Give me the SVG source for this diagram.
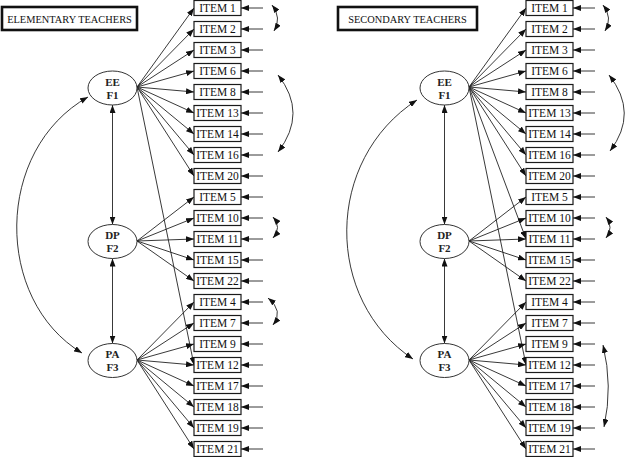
<svg xmlns="http://www.w3.org/2000/svg" width="625" height="457" viewBox="0 0 625 457">
<style>
.bg{fill:#fff}
.box{fill:#fff;stroke:#1a1a1a;stroke-width:1.2}
.title{fill:#fff;stroke:#111;stroke-width:2.6}
.lat{fill:#fff;stroke:#333;stroke-width:1}
.t{font-family:"Liberation Serif","DejaVu Serif",serif;font-size:11.5px;text-anchor:middle;fill:#111}
.tl{font-family:"Liberation Serif","DejaVu Serif",serif;font-size:11px;font-weight:bold;text-anchor:middle;fill:#222}
.tt{font-family:"Liberation Serif","DejaVu Serif",serif;font-size:10.4px;text-anchor:middle;fill:#111}
.c{fill:none;stroke:#222;stroke-width:0.9;marker-end:url(#ah)}
.d{fill:none;stroke:#222;stroke-width:0.9;marker-start:url(#ah);marker-end:url(#ah)}
</style>
<defs>
<marker id="ah" viewBox="0 0 8 6" refX="8" refY="3" markerWidth="8" markerHeight="6" markerUnits="userSpaceOnUse" orient="auto-start-reverse">
<path d="M0,0 L8,3 L0,6 z" fill="#111"/>
</marker>
</defs>
<rect class="bg" x="0" y="0" width="625" height="457"/>

<g id="connectors">
<path class="c" d="M137 87 L194 8"/>
<path class="c" d="M137 87 L194 29"/>
<path class="c" d="M137 87 L194 50"/>
<path class="c" d="M137 87 L194 71"/>
<path class="c" d="M137 87 L194 92"/>
<path class="c" d="M137 87 L194 113"/>
<path class="c" d="M137 87 L194 134"/>
<path class="c" d="M137 87 L194 155"/>
<path class="c" d="M137 87 L194 176"/>
<path class="c" d="M137 87 L194 365"/>
<path class="c" d="M137 241 L194 197"/>
<path class="c" d="M137 241 L194 218"/>
<path class="c" d="M137 241 L194 239"/>
<path class="c" d="M137 241 L194 260"/>
<path class="c" d="M137 241 L194 281"/>
<path class="c" d="M137 360 L194 302"/>
<path class="c" d="M137 360 L194 323"/>
<path class="c" d="M137 360 L194 344"/>
<path class="c" d="M137 360 L194 365"/>
<path class="c" d="M137 360 L194 386"/>
<path class="c" d="M137 360 L194 407"/>
<path class="c" d="M137 360 L194 428"/>
<path class="c" d="M137 360 L194 449"/>
<path class="d" d="M112.5 105 L112.5 224.5"/>
<path class="d" d="M112.5 258.5 L112.5 343.5"/>
<path class="d" d="M88 97 C -6 150 -6 300 82 353"/>
<path class="c" d="M263 8 L241 8"/>
<path class="c" d="M263 29 L241 29"/>
<path class="c" d="M263 50 L241 50"/>
<path class="c" d="M263 71 L241 71"/>
<path class="c" d="M263 92 L241 92"/>
<path class="c" d="M263 113 L241 113"/>
<path class="c" d="M263 134 L241 134"/>
<path class="c" d="M263 155 L241 155"/>
<path class="c" d="M263 176 L241 176"/>
<path class="c" d="M263 197 L241 197"/>
<path class="c" d="M263 218 L241 218"/>
<path class="c" d="M263 239 L241 239"/>
<path class="c" d="M263 260 L241 260"/>
<path class="c" d="M263 281 L241 281"/>
<path class="c" d="M263 302 L241 302"/>
<path class="c" d="M263 323 L241 323"/>
<path class="c" d="M263 344 L241 344"/>
<path class="c" d="M263 365 L241 365"/>
<path class="c" d="M263 386 L241 386"/>
<path class="c" d="M263 407 L241 407"/>
<path class="c" d="M263 428 L241 428"/>
<path class="c" d="M263 449 L241 449"/>
<path class="d" d="M272 5 Q282 18 274 31"/>
<path class="d" d="M278 75 Q308 113 278 152"/>
<path class="d" d="M273 217 Q282 227.5 273 238"/>
<path class="d" d="M268 298 Q284 311 273 325"/>

<path class="c" d="M469 87 L526 8"/>
<path class="c" d="M469 87 L526 29"/>
<path class="c" d="M469 87 L526 50"/>
<path class="c" d="M469 87 L526 71"/>
<path class="c" d="M469 87 L526 92"/>
<path class="c" d="M469 87 L526 113"/>
<path class="c" d="M469 87 L526 134"/>
<path class="c" d="M469 87 L526 155"/>
<path class="c" d="M469 87 L526 176"/>
<path class="c" d="M469 87 L526 239"/>
<path class="c" d="M469 87 L526 365"/>
<path class="c" d="M469 241 L526 197"/>
<path class="c" d="M469 241 L526 218"/>
<path class="c" d="M469 241 L526 239"/>
<path class="c" d="M469 241 L526 260"/>
<path class="c" d="M469 241 L526 281"/>
<path class="c" d="M469 360 L526 302"/>
<path class="c" d="M469 360 L526 323"/>
<path class="c" d="M469 360 L526 344"/>
<path class="c" d="M469 360 L526 365"/>
<path class="c" d="M469 360 L526 386"/>
<path class="c" d="M469 360 L526 407"/>
<path class="c" d="M469 360 L526 428"/>
<path class="c" d="M469 360 L526 449"/>
<path class="d" d="M444.5 105 L444.5 224.5"/>
<path class="d" d="M444.5 258.5 L444.5 343.5"/>
<path class="d" d="M417 100 C 324 160 324 300 413 359"/>
<path class="c" d="M595 8 L573 8"/>
<path class="c" d="M595 29 L573 29"/>
<path class="c" d="M595 50 L573 50"/>
<path class="c" d="M595 71 L573 71"/>
<path class="c" d="M595 92 L573 92"/>
<path class="c" d="M595 113 L573 113"/>
<path class="c" d="M595 134 L573 134"/>
<path class="c" d="M595 155 L573 155"/>
<path class="c" d="M595 176 L573 176"/>
<path class="c" d="M595 197 L573 197"/>
<path class="c" d="M595 218 L573 218"/>
<path class="c" d="M595 239 L573 239"/>
<path class="c" d="M595 260 L573 260"/>
<path class="c" d="M595 281 L573 281"/>
<path class="c" d="M595 302 L573 302"/>
<path class="c" d="M595 323 L573 323"/>
<path class="c" d="M595 344 L573 344"/>
<path class="c" d="M595 365 L573 365"/>
<path class="c" d="M595 386 L573 386"/>
<path class="c" d="M595 407 L573 407"/>
<path class="c" d="M595 428 L573 428"/>
<path class="c" d="M595 449 L573 449"/>
<path class="d" d="M603 5 Q613 18 605 31"/>
<path class="d" d="M609 75 Q639 113 610 151"/>
<path class="d" d="M606 217 Q614 227.5 606 238"/>
<path class="d" d="M603 345 Q613 386 604 427"/>
</g>

<g id="L-title"><rect class="title" x="2" y="7" width="135" height="23"/><text class="tt" x="69.5" y="22.5">ELEMENTARY TEACHERS</text></g>
<g id="R-title"><rect class="title" x="338" y="7" width="139" height="23"/><text class="tt" x="407.5" y="22.5">SECONDARY TEACHERS</text></g>

<g id="L-EE"><ellipse class="lat" cx="112.5" cy="88" rx="24.5" ry="17"/><text class="tl" x="112.5" y="85.5">EE</text><text class="tl" x="112.5" y="98.5">F1</text></g>
<g id="L-DP"><ellipse class="lat" cx="112.5" cy="241.5" rx="24.5" ry="17"/><text class="tl" x="112.5" y="239">DP</text><text class="tl" x="112.5" y="252">F2</text></g>
<g id="L-PA"><ellipse class="lat" cx="112.5" cy="360.5" rx="24.5" ry="17"/><text class="tl" x="112.5" y="358">PA</text><text class="tl" x="112.5" y="371">F3</text></g>

<g id="R-EE"><ellipse class="lat" cx="444.5" cy="88" rx="24.5" ry="17"/><text class="tl" x="444.5" y="85.5">EE</text><text class="tl" x="444.5" y="98.5">F1</text></g>
<g id="R-DP"><ellipse class="lat" cx="444.5" cy="241.5" rx="24.5" ry="17"/><text class="tl" x="444.5" y="239">DP</text><text class="tl" x="444.5" y="252">F2</text></g>
<g id="R-PA"><ellipse class="lat" cx="444.5" cy="360.5" rx="24.5" ry="17"/><text class="tl" x="444.5" y="358">PA</text><text class="tl" x="444.5" y="371">F3</text></g>

<g id="L-item1"><rect class="box" x="194" y="0.5" width="47" height="15"/><text class="t" x="217.5" y="12">ITEM 1</text></g>
<g id="L-item2"><rect class="box" x="194" y="21.5" width="47" height="15"/><text class="t" x="217.5" y="33">ITEM 2</text></g>
<g id="L-item3"><rect class="box" x="194" y="42.5" width="47" height="15"/><text class="t" x="217.5" y="54">ITEM 3</text></g>
<g id="L-item6"><rect class="box" x="194" y="63.5" width="47" height="15"/><text class="t" x="217.5" y="75">ITEM 6</text></g>
<g id="L-item8"><rect class="box" x="194" y="84.5" width="47" height="15"/><text class="t" x="217.5" y="96">ITEM 8</text></g>
<g id="L-item13"><rect class="box" x="194" y="105.5" width="47" height="15"/><text class="t" x="217.5" y="117">ITEM 13</text></g>
<g id="L-item14"><rect class="box" x="194" y="126.5" width="47" height="15"/><text class="t" x="217.5" y="138">ITEM 14</text></g>
<g id="L-item16"><rect class="box" x="194" y="147.5" width="47" height="15"/><text class="t" x="217.5" y="159">ITEM 16</text></g>
<g id="L-item20"><rect class="box" x="194" y="168.5" width="47" height="15"/><text class="t" x="217.5" y="180">ITEM 20</text></g>
<g id="L-item5"><rect class="box" x="194" y="189.5" width="47" height="15"/><text class="t" x="217.5" y="201">ITEM 5</text></g>
<g id="L-item10"><rect class="box" x="194" y="210.5" width="47" height="15"/><text class="t" x="217.5" y="222">ITEM 10</text></g>
<g id="L-item11"><rect class="box" x="194" y="231.5" width="47" height="15"/><text class="t" x="217.5" y="243">ITEM 11</text></g>
<g id="L-item15"><rect class="box" x="194" y="252.5" width="47" height="15"/><text class="t" x="217.5" y="264">ITEM 15</text></g>
<g id="L-item22"><rect class="box" x="194" y="273.5" width="47" height="15"/><text class="t" x="217.5" y="285">ITEM 22</text></g>
<g id="L-item4"><rect class="box" x="194" y="294.5" width="47" height="15"/><text class="t" x="217.5" y="306">ITEM 4</text></g>
<g id="L-item7"><rect class="box" x="194" y="315.5" width="47" height="15"/><text class="t" x="217.5" y="327">ITEM 7</text></g>
<g id="L-item9"><rect class="box" x="194" y="336.5" width="47" height="15"/><text class="t" x="217.5" y="348">ITEM 9</text></g>
<g id="L-item12"><rect class="box" x="194" y="357.5" width="47" height="15"/><text class="t" x="217.5" y="369">ITEM 12</text></g>
<g id="L-item17"><rect class="box" x="194" y="378.5" width="47" height="15"/><text class="t" x="217.5" y="390">ITEM 17</text></g>
<g id="L-item18"><rect class="box" x="194" y="399.5" width="47" height="15"/><text class="t" x="217.5" y="411">ITEM 18</text></g>
<g id="L-item19"><rect class="box" x="194" y="420.5" width="47" height="15"/><text class="t" x="217.5" y="432">ITEM 19</text></g>
<g id="L-item21"><rect class="box" x="194" y="441.5" width="47" height="15"/><text class="t" x="217.5" y="453">ITEM 21</text></g>

<g id="R-item1"><rect class="box" x="526" y="0.5" width="47" height="15"/><text class="t" x="549.5" y="12">ITEM 1</text></g>
<g id="R-item2"><rect class="box" x="526" y="21.5" width="47" height="15"/><text class="t" x="549.5" y="33">ITEM 2</text></g>
<g id="R-item3"><rect class="box" x="526" y="42.5" width="47" height="15"/><text class="t" x="549.5" y="54">ITEM 3</text></g>
<g id="R-item6"><rect class="box" x="526" y="63.5" width="47" height="15"/><text class="t" x="549.5" y="75">ITEM 6</text></g>
<g id="R-item8"><rect class="box" x="526" y="84.5" width="47" height="15"/><text class="t" x="549.5" y="96">ITEM 8</text></g>
<g id="R-item13"><rect class="box" x="526" y="105.5" width="47" height="15"/><text class="t" x="549.5" y="117">ITEM 13</text></g>
<g id="R-item14"><rect class="box" x="526" y="126.5" width="47" height="15"/><text class="t" x="549.5" y="138">ITEM 14</text></g>
<g id="R-item16"><rect class="box" x="526" y="147.5" width="47" height="15"/><text class="t" x="549.5" y="159">ITEM 16</text></g>
<g id="R-item20"><rect class="box" x="526" y="168.5" width="47" height="15"/><text class="t" x="549.5" y="180">ITEM 20</text></g>
<g id="R-item5"><rect class="box" x="526" y="189.5" width="47" height="15"/><text class="t" x="549.5" y="201">ITEM 5</text></g>
<g id="R-item10"><rect class="box" x="526" y="210.5" width="47" height="15"/><text class="t" x="549.5" y="222">ITEM 10</text></g>
<g id="R-item11"><rect class="box" x="526" y="231.5" width="47" height="15"/><text class="t" x="549.5" y="243">ITEM 11</text></g>
<g id="R-item15"><rect class="box" x="526" y="252.5" width="47" height="15"/><text class="t" x="549.5" y="264">ITEM 15</text></g>
<g id="R-item22"><rect class="box" x="526" y="273.5" width="47" height="15"/><text class="t" x="549.5" y="285">ITEM 22</text></g>
<g id="R-item4"><rect class="box" x="526" y="294.5" width="47" height="15"/><text class="t" x="549.5" y="306">ITEM 4</text></g>
<g id="R-item7"><rect class="box" x="526" y="315.5" width="47" height="15"/><text class="t" x="549.5" y="327">ITEM 7</text></g>
<g id="R-item9"><rect class="box" x="526" y="336.5" width="47" height="15"/><text class="t" x="549.5" y="348">ITEM 9</text></g>
<g id="R-item12"><rect class="box" x="526" y="357.5" width="47" height="15"/><text class="t" x="549.5" y="369">ITEM 12</text></g>
<g id="R-item17"><rect class="box" x="526" y="378.5" width="47" height="15"/><text class="t" x="549.5" y="390">ITEM 17</text></g>
<g id="R-item18"><rect class="box" x="526" y="399.5" width="47" height="15"/><text class="t" x="549.5" y="411">ITEM 18</text></g>
<g id="R-item19"><rect class="box" x="526" y="420.5" width="47" height="15"/><text class="t" x="549.5" y="432">ITEM 19</text></g>
<g id="R-item21"><rect class="box" x="526" y="441.5" width="47" height="15"/><text class="t" x="549.5" y="453">ITEM 21</text></g>
</svg>
